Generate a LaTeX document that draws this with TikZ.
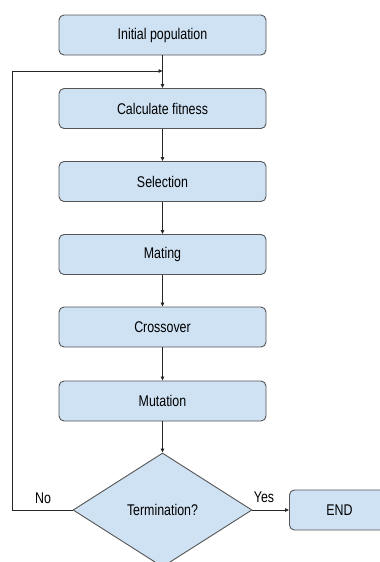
\documentclass[tikz,border=0pt]{standalone}
\usepackage{fontspec}
\setmainfont{Liberation Sans}[FakeStretch=0.8]
\usetikzlibrary{shapes.geometric,arrows.meta}
\definecolor{boxfill}{HTML}{CFE2F3}
\definecolor{boxline}{HTML}{555555}
\begin{document}
\begin{tikzpicture}[x=1pt,y=-1pt,
  stepbox/.style={draw=boxline,fill=boxfill,line width=0.9pt,rounded corners=5pt,
    minimum width=207pt,minimum height=40pt,inner sep=0pt,font=\fontsize{15.5}{17}\selectfont},
  link/.style={draw=black!85,line width=0.8pt,-{Triangle[length=4pt,width=3.5pt]}},
  lbl/.style={font=\fontsize{15.5}{17}\selectfont,inner sep=0pt}]
\useasboundingbox (0,0) rectangle (380,562);
\clip (0,0) rectangle (380,562);
\node[stepbox] (init) at (162.5,35) {Initial population};
\node[stepbox] (calc) at (162.5,108.5) {Calculate fitness};
\node[stepbox] (sel) at (162.5,181.5) {Selection};
\node[stepbox] (mat) at (162.5,254.5) {Mating};
\node[stepbox] (cross) at (162.5,327) {Crossover};
\node[stepbox] (mut) at (162.5,401) {Mutation};
\node[diamond,draw=boxline,fill=boxfill,line width=0.9pt,aspect=1.57,inner sep=0pt,
  minimum width=179pt,minimum height=114pt,font=\fontsize{15.5}{17}\selectfont] (term) at (162.5,510) {Termination?};
\node[stepbox,minimum width=100pt,anchor=west] (end) at (289,510) {END};
\coordinate (loopbl) at (12,510);
\coordinate (looptl) at (12,71);
\coordinate (join) at (162.5,71);
\draw[link] (init) -- (calc);
\draw[link] (calc) -- (sel);
\draw[link] (sel) -- (mat);
\draw[link] (mat) -- (cross);
\draw[link] (cross) -- (mut);
\draw[link] (mut) -- (term);
\draw[link] (term.east) -- (end.west);
\draw[link] (term.west) -- (loopbl) -- (looptl) -- (join);
\node[lbl] (no) at (43,498) {No};
\node[lbl] (yes) at (264,497) {Yes};
\end{tikzpicture}
\end{document}
